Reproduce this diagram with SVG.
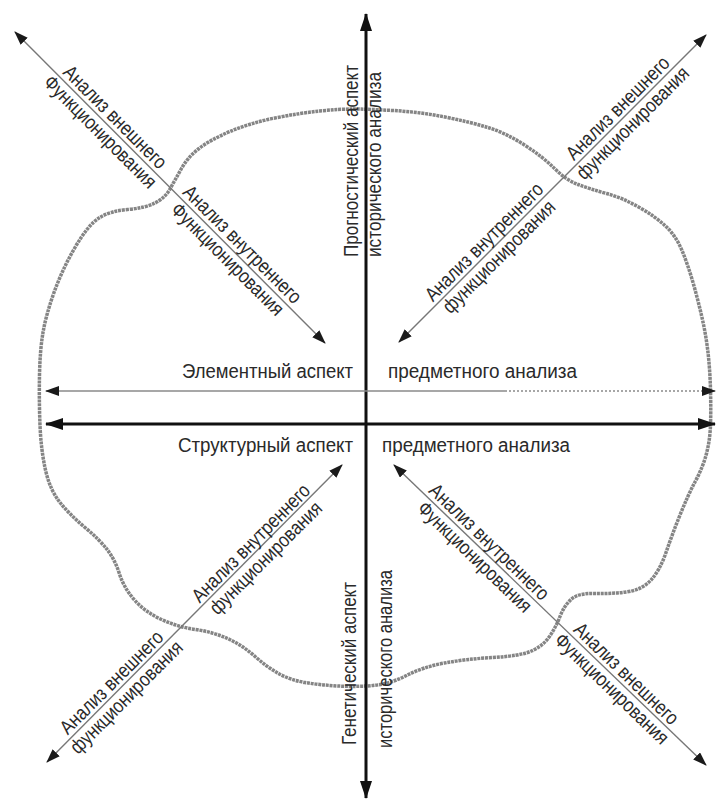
<svg xmlns="http://www.w3.org/2000/svg" width="716" height="800" viewBox="0 0 716 800">
<style>
  .t { font-family: "Liberation Sans", Arial, sans-serif; font-size: 20px; fill: #2a2a2a; }
  .diag { stroke: #777; stroke-width: 1.4; fill: none; marker-start: url(#ah); marker-end: url(#ah); }
  .axis { stroke: #111; stroke-width: 3; fill: none; marker-start: url(#ahb); marker-end: url(#ahb); }
  .blob { stroke: #858585; stroke-width: 3.5; fill: none; stroke-dasharray: 3 0.8; stroke-linejoin: round; }
</style>
<defs>
  <marker id="ah" viewBox="0 0 14 10" refX="13" refY="5" markerWidth="14" markerHeight="10" markerUnits="userSpaceOnUse" orient="auto-start-reverse">
    <path d="M0,0 L14,5 L0,10 Z" fill="#1a1a1a"/>
  </marker>
  <marker id="ahb" viewBox="0 0 18 12" refX="17" refY="6" markerWidth="18" markerHeight="12" markerUnits="userSpaceOnUse" orient="auto-start-reverse">
    <path d="M0,0 L18,6 L0,12 Z" fill="#111"/>
  </marker>
</defs>
<rect width="716" height="800" fill="#fff"/>

<g id="blob">
  <path class="blob" d="M353,109 Q366,109 393,110.5 Q420,112 445,117 Q470,122 488,127.5 Q506,133 524.5,145 Q543,157 554.5,168.5 Q566,180 578,184.5 Q590,189 606.5,193.5 Q623,198 639.5,207.5 Q656,217 666,226.5 Q676,236 682,250.5 Q688,265 693,282.5 Q698,300 702,317.5 Q706,335 708,352.5 Q710,370 710.5,390 Q711,410 710.5,425 Q710,440 706.5,453.5 Q703,467 695.5,481 Q688,495 680,515 Q672,535 666,552.5 Q660,570 651,580 Q642,590 626,592 Q610,594 594,593.5 Q578,593 571,599.5 Q564,606 560,616.5 Q556,627 549.5,636.5 Q543,646 531.5,651 Q520,656 493,657.5 Q466,659 444.5,663 Q423,667 406.5,675.5 Q390,684 373,685.5 Q356,687 338,686 Q320,685 305,682.5 Q290,680 278.5,673.5 Q267,667 254.5,656 Q242,645 227.5,638.5 Q213,632 195.5,629.5 Q178,627 161.5,619.5 Q145,612 134.5,600 Q124,588 119.5,574 Q115,560 107.5,550 Q100,540 85,527.5 Q70,515 60,502.5 Q50,490 45.5,470 Q41,450 40,425 Q39,400 39.5,375 Q40,350 43,332.5 Q46,315 54,292.5 Q62,270 75,247.5 Q88,225 99,218 Q110,211 127.5,209.5 Q145,208 155,203 Q165,198 170,189 Q175,180 181.5,168.5 Q188,157 199,148.5 Q210,140 230,131.5 Q250,123 275,118 Q300,113 320,111 Q340,109 353,109 Z"/>
</g>

<g id="connectors">
  <line class="axis" x1="366" y1="798" x2="366" y2="14"/>
  <line class="axis" x1="46" y1="424" x2="715" y2="424"/>
  <line x1="46" y1="391" x2="505" y2="391" stroke="#8a8a8a" stroke-width="1.5" marker-start="url(#ah)"/>
  <line x1="505" y1="391" x2="715" y2="391" stroke="#8a8a8a" stroke-width="1.5" stroke-dasharray="2 2" marker-end="url(#ah)"/>
  <line class="diag" x1="15" y1="32" x2="325" y2="343"/>
  <line class="diag" x1="399" y1="342" x2="706" y2="35"/>
  <line class="diag" x1="47" y1="762" x2="342" y2="465"/>
  <line class="diag" x1="394" y1="465" x2="706" y2="765"/>
</g>

<g id="element-aspect">
  <text class="t" x="353" y="378" text-anchor="end" textLength="171" lengthAdjust="spacingAndGlyphs">Элементный аспект</text>
  <text class="t" x="388" y="378" textLength="189" lengthAdjust="spacingAndGlyphs">предметного анализа</text>
</g>
<g id="structural-aspect">
  <text class="t" x="353" y="452" text-anchor="end" textLength="175" lengthAdjust="spacingAndGlyphs">Структурный аспект</text>
  <text class="t" x="382" y="452" textLength="188" lengthAdjust="spacingAndGlyphs">предметного анализа</text>
</g>
<g id="prognostic-aspect">
  <text class="t" transform="translate(358,257) rotate(-90)" textLength="192" lengthAdjust="spacingAndGlyphs">Прогностический аспект</text>
  <text class="t" transform="translate(381,257) rotate(-90)" textLength="185" lengthAdjust="spacingAndGlyphs">исторического анализа</text>
</g>
<g id="genetic-aspect">
  <text class="t" transform="translate(356,745) rotate(-90)" textLength="163" lengthAdjust="spacingAndGlyphs">Генетический аспект</text>
  <text class="t" transform="translate(392,748) rotate(-90)" textLength="178" lengthAdjust="spacingAndGlyphs">исторического анализа</text>
</g>

<g id="top-left-external">
  <g transform="translate(107.6,124.6) rotate(45)">
    <text class="t" x="0" y="-4" text-anchor="middle" textLength="137" lengthAdjust="spacingAndGlyphs">Анализ внешнего</text>
    <text class="t" x="0" y="17" text-anchor="middle" textLength="150" lengthAdjust="spacingAndGlyphs">Функционирования</text>
  </g>
</g>
<g id="top-left-internal">
  <g transform="translate(234.9,251.9) rotate(45)">
    <text class="t" x="0" y="-4" text-anchor="middle" textLength="158" lengthAdjust="spacingAndGlyphs">Анализ внутреннего</text>
    <text class="t" x="0" y="17" text-anchor="middle" textLength="150" lengthAdjust="spacingAndGlyphs">Функционирования</text>
  </g>
</g>
<g id="top-right-internal">
  <g transform="translate(491.6,249.4) rotate(-45)">
    <text class="t" x="0" y="-4" text-anchor="middle" textLength="158" lengthAdjust="spacingAndGlyphs">Анализ внутреннего</text>
    <text class="t" x="0" y="17" text-anchor="middle" textLength="150" lengthAdjust="spacingAndGlyphs">функционирования</text>
  </g>
</g>
<g id="top-right-external">
  <g transform="translate(625.3,115.7) rotate(-45)">
    <text class="t" x="0" y="-4" text-anchor="middle" textLength="137" lengthAdjust="spacingAndGlyphs">Анализ внешнего</text>
    <text class="t" x="0" y="17" text-anchor="middle" textLength="150" lengthAdjust="spacingAndGlyphs">функционирования</text>
  </g>
</g>
<g id="bottom-left-internal">
  <g transform="translate(258.4,550.6) rotate(-45)">
    <text class="t" x="0" y="-4" text-anchor="middle" textLength="158" lengthAdjust="spacingAndGlyphs">Анализ внутреннего</text>
    <text class="t" x="0" y="17" text-anchor="middle" textLength="150" lengthAdjust="spacingAndGlyphs">функционирования</text>
  </g>
</g>
<g id="bottom-left-external">
  <g transform="translate(119.1,689.9) rotate(-45)">
    <text class="t" x="0" y="-4" text-anchor="middle" textLength="137" lengthAdjust="spacingAndGlyphs">Анализ внешнего</text>
    <text class="t" x="0" y="17" text-anchor="middle" textLength="150" lengthAdjust="spacingAndGlyphs">функционирования</text>
  </g>
</g>
<g id="bottom-right-internal">
  <g transform="translate(481.9,549.6) rotate(44)">
    <text class="t" x="0" y="-4" text-anchor="middle" textLength="158" lengthAdjust="spacingAndGlyphs">Анализ внутреннего</text>
    <text class="t" x="0" y="17" text-anchor="middle" textLength="150" lengthAdjust="spacingAndGlyphs">Функционирования</text>
  </g>
</g>
<g id="bottom-right-external">
  <g transform="translate(618.9,681.3) rotate(44)">
    <text class="t" x="0" y="-4" text-anchor="middle" textLength="137" lengthAdjust="spacingAndGlyphs">Анализ внешнего</text>
    <text class="t" x="0" y="17" text-anchor="middle" textLength="150" lengthAdjust="spacingAndGlyphs">Функционирования</text>
  </g>
</g>
</svg>
